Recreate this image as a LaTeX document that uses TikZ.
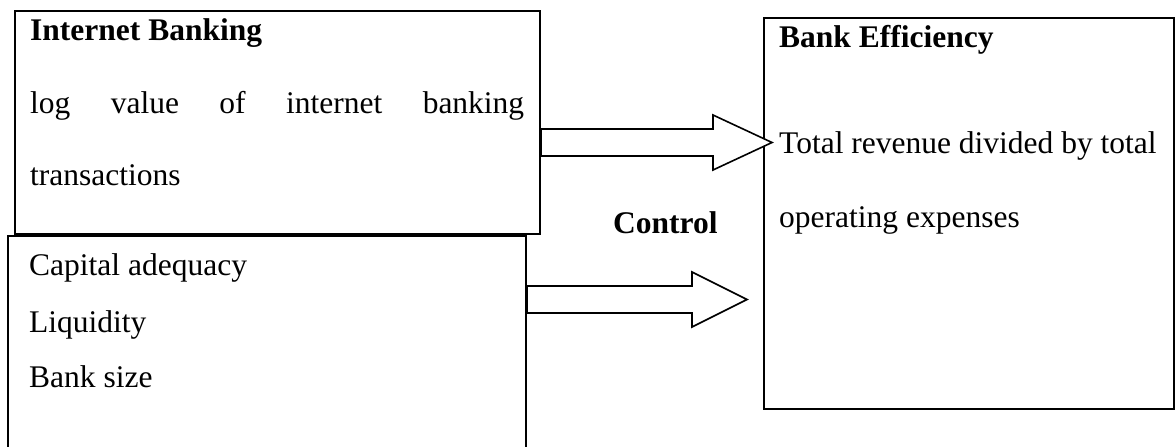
\documentclass[tikz,border=0pt]{standalone}
\usepackage{fontspec}
\setmainfont{Liberation Serif}
\begin{document}
\begin{tikzpicture}[x=1pt,y=-1pt,
  box/.style={draw,line width=2pt,inner sep=0pt},
  blockarrow/.style={draw,fill=white,line width=1.6pt,line join=miter},
  txt/.style={anchor=base west,inner sep=0pt,font=\fontsize{31.5}{36}\selectfont},
  btxt/.style={txt,font=\fontsize{31.5}{36}\selectfont\bfseries}]
\useasboundingbox (0,0) rectangle (1176,447);
% boxes
\node[box,minimum width=525pt,minimum height=223pt] (ib) at (277.5,122.5) {};
\node[box,minimum width=518pt,minimum height=224pt] (cv) at (267,348) {};
\node[box,minimum width=410pt,minimum height=391pt] (be) at (969,213.5) {};
% block arrows
\coordinate (a1t) at (0,129);
\coordinate (a1b) at (0,156);
\coordinate (a2t) at (0,286);
\coordinate (a2b) at (0,313);
\draw[blockarrow] (ib.east |- a1t) -- (713,129) -- (713,115) -- (772,142.5) -- (713,170) -- (713,156) -- (ib.east |- a1b) -- cycle;
\draw[blockarrow] (cv.east |- a2t) -- (692,286) -- (692,272) -- (747,299.5) -- (692,327) -- (692,313) -- (cv.east |- a2b) -- cycle;
% texts
\node[btxt] (t1) at (30,40) {Internet Banking};
\node[txt] (t2) at (30,113) {\makebox[494pt][s]{log value of internet banking}};
\node[txt] (t3) at (30,185) {transactions};
\node[txt] (t4) at (29,275) {Capital adequacy};
\node[txt] (t5) at (29,332) {Liquidity};
\node[txt] (t6) at (29,387) {Bank size};
\node[btxt] (t7) at (613,233) {Control};
\node[btxt] (t8) at (779,47) {Bank Efficiency};
\node[txt] (t9) at (779,153) {Total revenue divided by total};
\node[txt] (t10) at (779,227) {operating expenses};
\end{tikzpicture}
\end{document}
